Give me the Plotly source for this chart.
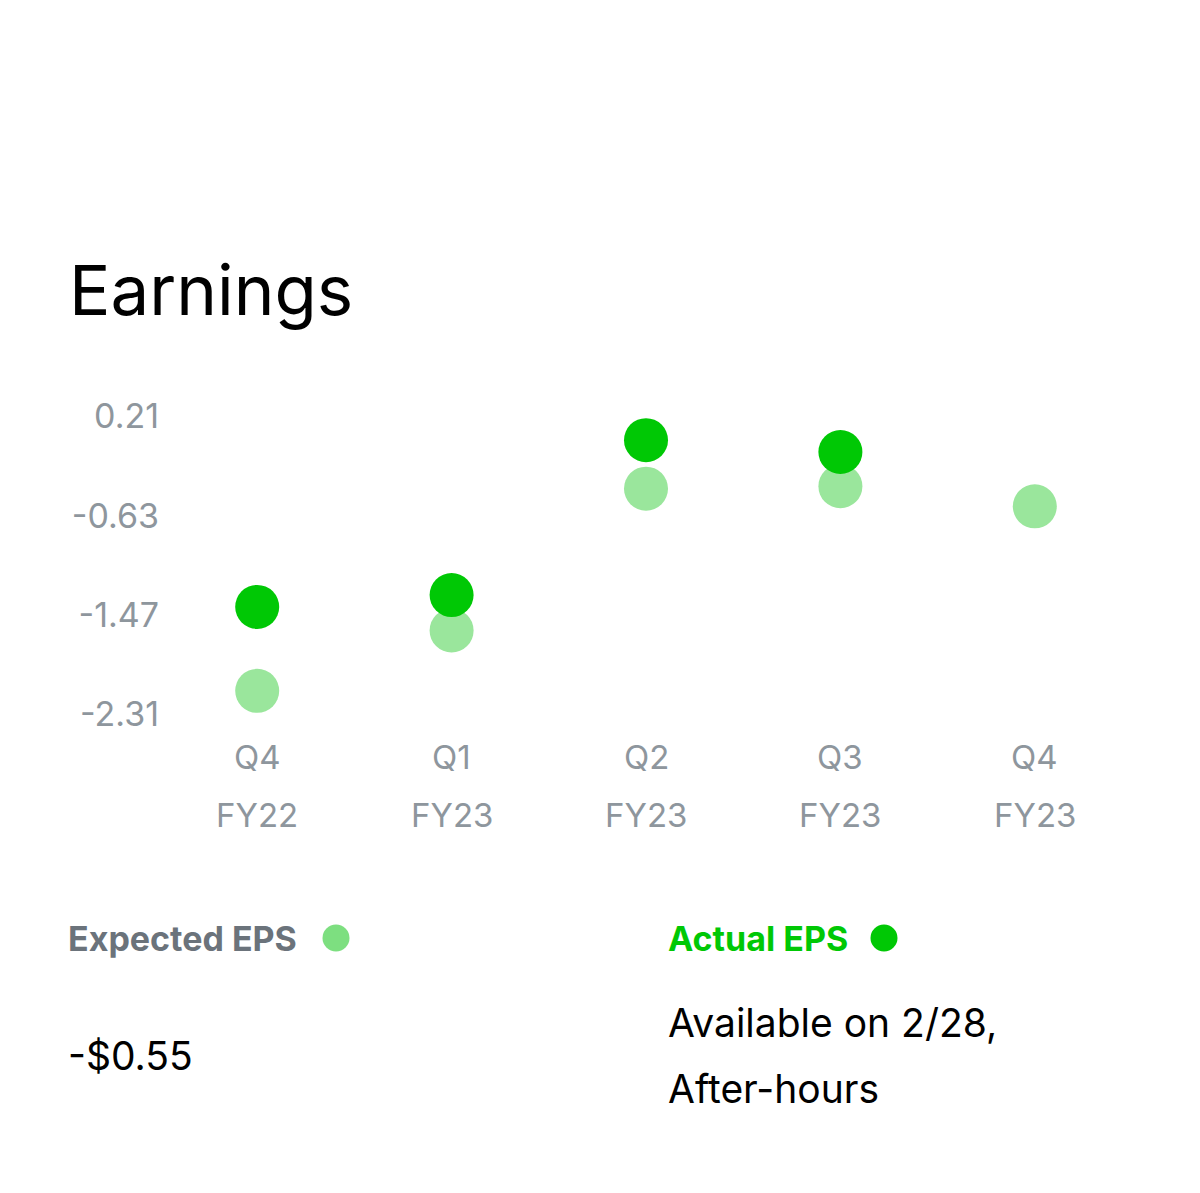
import plotly.graph_objects as go

# ---- data ----
quarters = ["Q4", "Q1", "Q2", "Q3", "Q4"]
fiscal_years = ["FY22", "FY23", "FY23", "FY23", "FY23"]
categories = [0, 1, 2, 3, 4]
expected_eps = [-2.11, -1.60, -0.40, -0.38, -0.55]
actual_eps = [-1.40, -1.30, 0.01, -0.09, None]
y_ticks = [0.21, -0.63, -1.47, -2.31]
y_tick_labels = ["0.21", "-0.63", "-1.47", "-2.31"]
title_text = "Earnings"
expected_label = "Expected EPS"
actual_label = "Actual EPS"
expected_value_text = "-$0.55"
actual_value_lines = ["Available on 2/28,", "After-hours"]

# ---- styles ----
W, H = 1200, 1193
OFF = 8  # page body margin
ACTUAL = "#00c805"
EXPECTED = "#9ae69c"
EXPECTED_LEG = "#7ddf80"
GREY = "#8e969d"
LABEL_GREY = "#6b737b"
FONT = "Inter, Liberation Sans, Arial, sans-serif"

# plot area in screenshot pixels
S_TOP, S_BOTTOM = 380, 740
S_LEFT, S_RIGHT = 160, 1132
plot_top, plot_bottom = S_TOP - OFF, S_BOTTOM - OFF
plot_left, plot_right = S_LEFT - OFF, S_RIGHT - OFF
PW = plot_right - plot_left
PH = plot_bottom - plot_top


def px_x(px):
    return (px - OFF - plot_left) / PW


def px_y(py):
    return (plot_bottom - (py - OFF)) / PH


fig = go.Figure()
fig.add_trace(go.Scatter(
    x=categories, y=expected_eps, mode="markers", name=expected_label,
    marker=dict(size=44, color=EXPECTED, line=dict(width=0)), hoverinfo="x+y"))
fig.add_trace(go.Scatter(
    x=categories, y=actual_eps, mode="markers", name=actual_label,
    marker=dict(size=44, color=ACTUAL, line=dict(width=0)), hoverinfo="x+y"))

annotations = []
for c, q, fy in zip(categories, quarters, fiscal_years):
    annotations.append(dict(x=c, y=px_y(757), xref="x", yref="paper", text=q, showarrow=False,
                            yanchor="middle",
                            font=dict(family=FONT, size=33, color=GREY)))
    annotations.append(dict(x=c, y=px_y(815), xref="x", yref="paper", text=fy, showarrow=False,
                            yanchor="middle",
                            font=dict(family=FONT, size=33, color=GREY)))

annotations += [
    dict(x=px_x(67), y=px_y(290), xref="paper", yref="paper", xanchor="left", yanchor="middle",
         text=title_text, showarrow=False, font=dict(family=FONT, size=69, color="#000000")),
    dict(x=px_x(66), y=px_y(938), xref="paper", yref="paper", xanchor="left", yanchor="middle",
         text="<b>" + expected_label + "</b>", showarrow=False,
         font=dict(family=FONT, size=34, color=LABEL_GREY)),
    dict(x=px_x(666), y=px_y(938), xref="paper", yref="paper", xanchor="left", yanchor="middle",
         text="<b>" + actual_label + "</b>", showarrow=False,
         font=dict(family=FONT, size=34, color=ACTUAL)),
    dict(x=px_x(66), y=px_y(1055), xref="paper", yref="paper", xanchor="left", yanchor="middle",
         text=expected_value_text, showarrow=False, font=dict(family=FONT, size=39, color="#000000")),
    dict(x=px_x(666), y=px_y(1022), xref="paper", yref="paper", xanchor="left", yanchor="middle",
         text=actual_value_lines[0], showarrow=False, font=dict(family=FONT, size=39, color="#000000")),
    dict(x=px_x(666), y=px_y(1088), xref="paper", yref="paper", xanchor="left", yanchor="middle",
         text=actual_value_lines[1], showarrow=False, font=dict(family=FONT, size=39, color="#000000")),
]

R = 13.5
shapes = [
    dict(type="circle", xref="paper", yref="paper",
         x0=px_x(336 - R), x1=px_x(336 + R), y0=px_y(938 + R), y1=px_y(938 - R),
         fillcolor=EXPECTED_LEG, line=dict(width=0)),
    dict(type="circle", xref="paper", yref="paper",
         x0=px_x(884 - R), x1=px_x(884 + R), y0=px_y(938 + R), y1=px_y(938 - R),
         fillcolor=ACTUAL, line=dict(width=0)),
]

# y mapping (screenshot px): 0.21 -> 416.5px, -2.31 -> 714.5px
Y0_PX, Y3_PX = 416.5, 714.5
ppu = (Y3_PX - Y0_PX) / (y_ticks[0] - y_ticks[-1])
y_max = y_ticks[0] + (Y0_PX - S_TOP) / ppu
y_min = y_ticks[-1] - (S_BOTTOM - Y3_PX) / ppu

fig.update_layout(
    width=W, height=H,
    margin=dict(l=plot_left, r=W - plot_right, t=plot_top, b=H - plot_bottom, pad=0),
    paper_bgcolor="white", plot_bgcolor="white",
    showlegend=False,
    xaxis=dict(range=[-0.5, 4.5], showgrid=False, zeroline=False, showline=False,
               showticklabels=False, tickvals=categories, fixedrange=True),
    yaxis=dict(range=[y_min, y_max], tickvals=y_ticks, ticktext=y_tick_labels,
               showgrid=False, zeroline=False, showline=False, ticks="",
               tickfont=dict(family=FONT, size=34, color=GREY), fixedrange=True),
    annotations=annotations, shapes=shapes,
)

fig.write_html("out.html")
